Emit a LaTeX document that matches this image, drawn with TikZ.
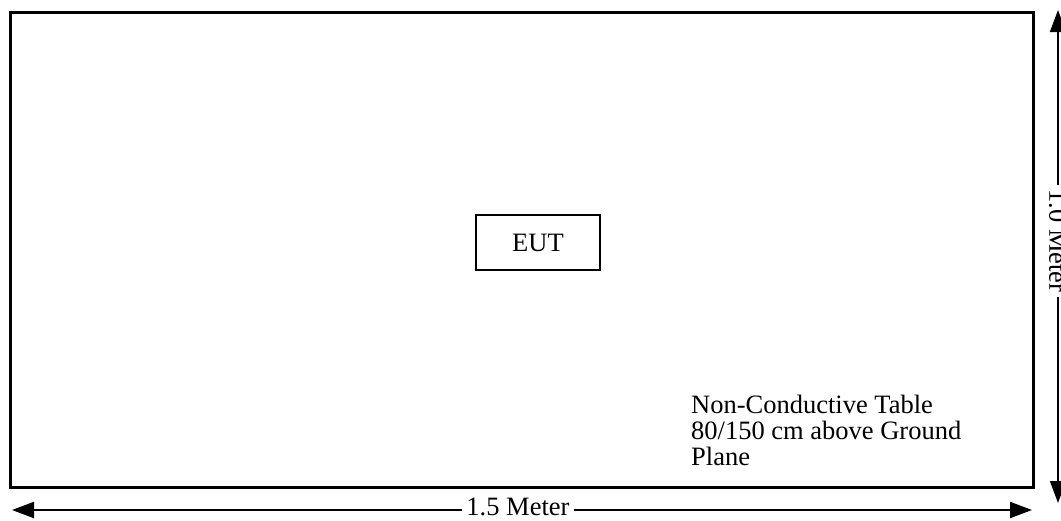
\documentclass[tikz,border=0pt]{standalone}
\usepackage{fontspec}
\setmainfont{Liberation Serif}
\usetikzlibrary{arrows.meta}
\begin{document}
\begin{tikzpicture}[x=1pt, y=-1pt,
  every node/.style = {font=\fontsize{26.5}{26}\selectfont},
  tablebox/.style = {draw, line width=3pt},
  eutbox/.style = {draw, line width=1.5pt, minimum width=124pt, minimum height=55pt},
  dimarrow/.style = {{Triangle[length=22pt,width=16pt]}-{Triangle[length=22pt,width=16pt]}},
  dimlabel/.style = {fill=white, inner xsep=4pt, inner ysep=0pt}]
  \useasboundingbox (0,0) rectangle (1061,520);
  \draw[tablebox] (10,12) rectangle (1033,487);
  \node[eutbox] (eut) at (538,242.5) {EUT};
  \node[anchor=north west, align=left, inner sep=0pt] (note) at (691,395)
    {Non-Conductive Table\\80/150 cm above Ground\\Plane};
  % dimensions
  \coordinate (wl) at (12,510);
  \coordinate (wr) at (1032,510);
  \coordinate (ht) at (1058,10);
  \coordinate (hb) at (1058,503);
  \draw[dimarrow, line width=2pt] (wl) -- (wr);
  \draw[dimarrow, line width=1.5pt] (ht) -- (hb);
  \node[dimlabel] (width) at (518,507) {1.5 Meter};
  \node[dimlabel, rotate=-90] (height) at (1058,241) {1.0 Meter};
\end{tikzpicture}
\end{document}
